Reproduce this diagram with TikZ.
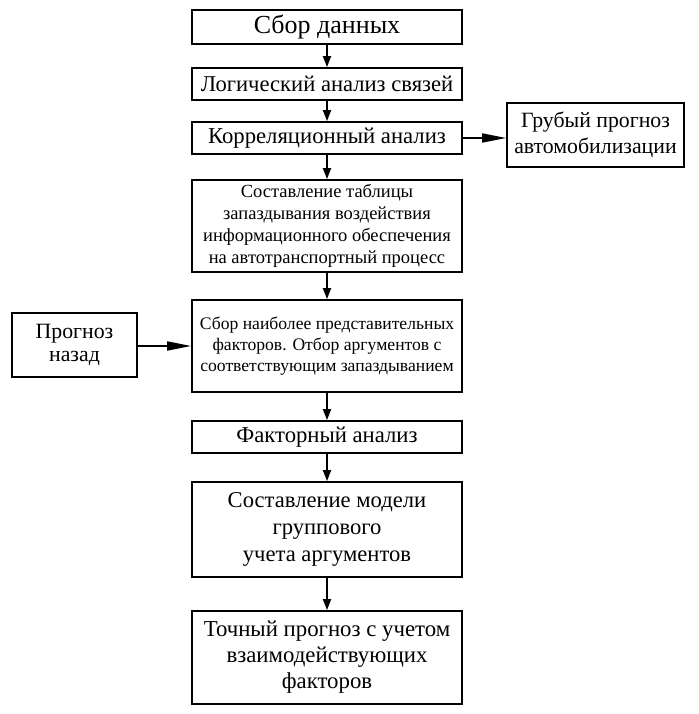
\documentclass[tikz,border=0pt]{standalone}
\usepackage{fontspec}
\setmainfont{Liberation Serif}
\usetikzlibrary{arrows.meta}

\begin{document}
\begin{tikzpicture}[x=1pt, y=-1pt,
	blok/.style={draw, line width=1.8pt, align=center, inner sep=0pt, minimum width=270pt},
	strelka/.style={line width=1.8pt, -{Triangle[length=11pt, width=8pt]}},
	bokstrelka/.style={line width=1.8pt, -{Triangle[length=24pt, width=9pt]}}]
	\useasboundingbox (0,0) rectangle (698,714);
	
	\node[blok, minimum height=34pt, font=\fontsize{26}{28}\selectfont] (sbor) at (327,27) {Сбор данных};
	\node[blok, minimum height=32pt, font=\fontsize{22.6}{24}\selectfont] (logika) at (327,84) {Логический анализ связей};
	\node[blok, minimum height=32pt, font=\fontsize{22.7}{24}\selectfont] (korr) at (327,138) {Корреляционный анализ};
	\node[blok, minimum width=177pt, minimum height=64pt, font=\fontsize{21.8}{26}\selectfont] (grub) at (595.5,135) {Грубый прогноз\\автомобилизации};
	
	\node[blok, minimum height=92pt, font=\fontsize{18.5}{22}\selectfont] (tabl) at (327,226) {Составление таблицы\\запаздывания воздействия\\информационного обеспечения\\на автотранспортный процесс};
	\node[blok, minimum height=92pt, font=\fontsize{17.6}{21}\selectfont] (faktory) at (327,346) {Сбор наиболее представительных\\факторов. Отбор аргументов с\\соответствующим запаздыванием};
	\node[blok, minimum width=125pt, minimum height=64pt, font=\fontsize{21.8}{23}\selectfont] (nazad) at (74.5,345) {Прогноз\\назад};
	
	\node[blok, minimum height=32pt, font=\fontsize{22.7}{24}\selectfont] (fanaliz) at (327,437) {Факторный анализ};
	\node[blok, minimum height=95pt, font=\fontsize{22.6}{27}\selectfont] (model) at (327,529.5) {Составление модели\\группового\\учета аргументов};
	\node[blok, minimum height=93pt, font=\fontsize{22.8}{26}\selectfont] (tochn) at (327,657.5) {Точный прогноз с учетом\\взаимодействующих\\факторов};
	
	\draw[strelka] (sbor) -- (logika);
	\draw[strelka] (logika) -- (korr);
	\draw[strelka] (korr) -- (tabl);
	\draw[strelka] (tabl) -- (faktory);
	\draw[strelka] (faktory) -- (fanaliz);
	\draw[strelka] (fanaliz) -- (model);
	\draw[strelka] (model) -- (tochn);
	
	\draw[bokstrelka] (korr.east) -- (korr.east -| grub.west);
	\draw[bokstrelka] (nazad.east |- faktory.west) -- (faktory.west);
\end{tikzpicture}
\end{document}
